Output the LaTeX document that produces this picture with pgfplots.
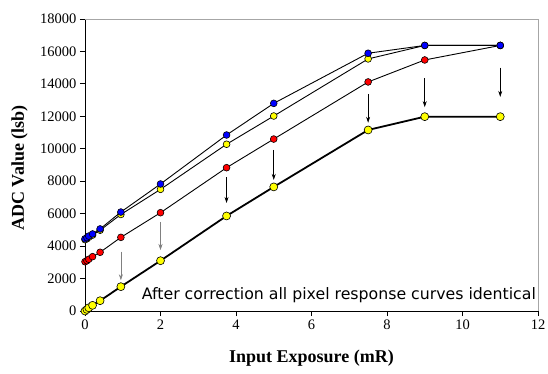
\documentclass[border=0pt]{standalone}
\usepackage{pgfplots}
\pgfplotsset{compat=1.18}
\usepackage{fontspec}
\setmainfont{Liberation Serif}
\newfontfamily\annfont{DejaVu Sans}
\usetikzlibrary{arrows.meta}
\definecolor{myblue}{RGB}{0,0,255}
\definecolor{myred}{RGB}{255,0,0}
\definecolor{myyellow}{RGB}{255,255,0}
\begin{document}
\begin{tikzpicture}[x=1pt,y=1pt]
\path[use as bounding box] (0,0) rectangle (548,373);
\begin{axis}[
  at={(85pt,62pt)}, anchor=south west,
  scale only axis, width=453pt, height=292pt,
  xmin=0, xmax=12, ymin=0, ymax=18000,
  xtick={0,2,...,12}, ytick={0,2000,...,18000},
  axis x line*=bottom, axis y line*=left,
  axis line style={black, line width=0.8pt},
  tick align=outside, major tick length=5pt,
  tick style={black, line width=0.8pt},
  scaled y ticks=false,
  /pgf/number format/assume math mode=true,
  /pgf/number format/set thousands separator={},
  tick label style={font=\fontsize{14.5}{16}\selectfont},
  xlabel={\textbf{Input Exposure (mR)}},
  ylabel={\textbf{ADC Value (lsb)}},
  xlabel style={font=\fontsize{18}{20}\selectfont, at={(axis description cs:0.5,-0.161)}, anchor=center},
  ylabel style={font=\fontsize{18}{20}\selectfont, at={(axis description cs:-0.1445,0.49)}, anchor=center},
  clip=false,
]
\draw[gray!70, line width=0.8pt] (rel axis cs:0,1) -- (rel axis cs:1,1) -- (rel axis cs:1,0);
% red
\addplot[black, line width=0.9pt, mark=*, mark size=3.4pt, mark options={fill=myred, draw=black, line width=0.6pt}] coordinates {
(0,3040) (0.05,3100) (0.1,3190) (0.2,3350) (0.4,3620) (0.95,4540) (2,6060) (3.75,8835) (5,10600) (7.5,14120) (9,15475) (11,16370)};
% upper yellow
\addplot[black, line width=0.9pt, mark=*, mark size=3.4pt, mark options={fill=myyellow, draw=black, line width=0.6pt}] coordinates {
(0,4400) (0.05,4450) (0.1,4550) (0.2,4680) (0.4,4980) (0.95,5950) (2,7500) (3.75,10280) (5,12020) (7.5,15540) (9,16370) (11,16370)};
% blue
\addplot[black, line width=0.9pt, mark=*, mark size=3.4pt, mark options={fill=myblue, draw=black, line width=0.6pt}] coordinates {
(0,4450) (0.05,4520) (0.1,4620) (0.2,4750) (0.4,5060) (0.95,6100) (2,7830) (3.75,10850) (5,12800) (7.5,15890) (9,16370) (11,16370)};
% lower yellow (corrected)
\addplot[black, line width=1.8pt, mark=*, mark size=4pt, mark options={fill=myyellow, draw=black, line width=0.6pt}] coordinates {
(0,0) (0.05,100) (0.1,200) (0.2,350) (0.4,635) (0.95,1500) (2,3100) (3.75,5860) (5,7650) (7.5,11160) (9,11980) (11,11980)};
% arrows
\addplot[gray, line width=0.6pt, -{Stealth[length=6pt,width=4pt]}] coordinates {(0.95,3660) (0.95,1900)};
\addplot[gray, line width=0.6pt, -{Stealth[length=6pt,width=4pt]}] coordinates {(2,5500) (2,3760)};
\addplot[black, line width=0.6pt, -{Stealth[length=6pt,width=4pt]}] coordinates {(3.75,8260) (3.75,6660)};
\addplot[black, line width=0.6pt, -{Stealth[length=6pt,width=4pt]}] coordinates {(5,9930) (5,8080)};
\addplot[black, line width=0.6pt, -{Stealth[length=6pt,width=4pt]}] coordinates {(7.5,13380) (7.5,11600)};
\addplot[black, line width=0.6pt, -{Stealth[length=6pt,width=4pt]}] coordinates {(9,14360) (9,12570)};
\addplot[black, line width=0.6pt, -{Stealth[length=6pt,width=4pt]}] coordinates {(11,15000) (11,13200)};
\node[anchor=east, inner sep=0pt] at (axis cs:11.95,1000) {\resizebox{394pt}{!}{\annfont\fontsize{13}{15}\selectfont After correction all pixel response curves identical}};
\end{axis}
\end{tikzpicture}
\end{document}
